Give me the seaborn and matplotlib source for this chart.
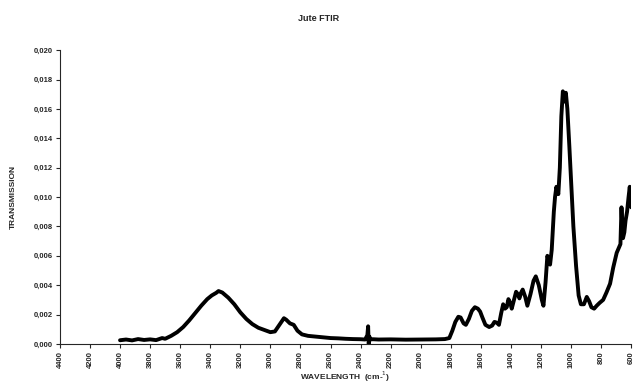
import numpy as np
import pandas as pd
import matplotlib
matplotlib.use("Agg")
import matplotlib.pyplot as plt
import seaborn as sns
from matplotlib.ticker import FuncFormatter

# Spectrum values
wavenumber = [4000, 3960, 3920, 3880, 3840, 3800, 3760, 3720, 3700, 3660,
              3620, 3580, 3540, 3500, 3460, 3420, 3390, 3360, 3345, 3320,
              3280, 3240, 3200, 3160, 3120, 3080, 3040, 3000, 2970, 2940,
              2910, 2895, 2870, 2845, 2820, 2790, 2750, 2700, 2650, 2600,
              2550, 2500, 2450, 2400, 2370, 2355, 2350, 2346, 2342, 2335,
              2320, 2280, 2200, 2100, 2000, 1900, 1840, 1810, 1790, 1770,
              1750, 1735, 1715, 1700, 1680, 1660, 1640, 1620, 1605, 1590,
              1570, 1545, 1525, 1510, 1495, 1480, 1465, 1452, 1440, 1428,
              1417, 1405, 1395, 1380, 1366, 1355, 1344, 1332, 1322, 1305,
              1291, 1270, 1250, 1235, 1215, 1195, 1184, 1170, 1158, 1148,
              1140, 1129, 1115, 1107, 1098, 1085, 1075, 1065, 1055, 1048,
              1042, 1035, 1025, 1012, 1000, 985, 967, 950, 935, 915,
              896, 880, 865, 847, 830, 810, 787, 765, 741, 720,
              697, 680, 672, 665, 660, 655, 646, 638, 628, 618,
              610, 605, 600]
transmission = [0.00025, 0.00030, 0.00024, 0.00033, 0.00027, 0.00031, 0.00026, 0.00040, 0.00035, 0.00055,
                0.00080, 0.00115, 0.00160, 0.00210, 0.00260, 0.00305, 0.00330, 0.00348, 0.00360, 0.00350,
                0.00315, 0.00270, 0.00215, 0.00170, 0.00135, 0.00110, 0.00095, 0.00080, 0.00085, 0.00130,
                0.00175, 0.00165, 0.00140, 0.00130, 0.00090, 0.00065, 0.00055, 0.00050, 0.00045, 0.00040,
                0.00038, 0.00035, 0.00033, 0.00032, 0.00030, 0.00060, 0.00120, -0.00020, 0.00050, 0.00030,
                0.00032, 0.00030, 0.00031, 0.00029, 0.00030, 0.00031, 0.00033, 0.00040, 0.00090, 0.00150,
                0.00185, 0.00180, 0.00140, 0.00130, 0.00170, 0.00225, 0.00250, 0.00240, 0.00220, 0.00180,
                0.00130, 0.00115, 0.00125, 0.00150, 0.00145, 0.00130, 0.00210, 0.00270, 0.00240, 0.00250,
                0.00305, 0.00280, 0.00240, 0.00300, 0.00355, 0.00340, 0.00310, 0.00350, 0.00370, 0.00320,
                0.00260, 0.00340, 0.00430, 0.00460, 0.00400, 0.00300, 0.00260, 0.00420, 0.00600, 0.00570,
                0.00540, 0.00640, 0.00900, 0.01000, 0.01070, 0.01020, 0.01200, 0.01550, 0.01720, 0.01700,
                0.01650, 0.01710, 0.01600, 0.01350, 0.01100, 0.00800, 0.00530, 0.00330, 0.00270, 0.00270,
                0.00320, 0.00290, 0.00250, 0.00240, 0.00260, 0.00280, 0.00300, 0.00350, 0.00410, 0.00520,
                0.00620, 0.00660, 0.00680, 0.00930, 0.00800, 0.00720, 0.00760, 0.00840, 0.00900, 0.01000,
                0.01070, 0.00960, 0.00930]

df = pd.DataFrame({"wavenumber": wavenumber, "transmission": transmission})

sns.set_style("ticks")
plt.rcParams['font.family'] = ['Liberation Sans', 'DejaVu Sans']

fig = plt.figure(figsize=(6.37, 3.86), dpi=100)
ax = fig.add_axes([0.094, 0.109, 0.897, 0.761])

sns.lineplot(data=df, x="wavenumber", y="transmission", sort=False,
             color="black", linewidth=2.8, ax=ax)

ax.set_xlim(4400, 600)
ax.set_ylim(0, 0.020)
ax.set_xticks(np.arange(4400, 599, -200))
ax.set_yticks(np.arange(0, 0.0201, 0.002))
ax.yaxis.set_major_formatter(FuncFormatter(lambda v, p: f"{v:.3f}".replace(".", ",")))
ax.tick_params(axis="x", labelrotation=90, labelsize=5.5, length=3, width=0.8, pad=2)
ax.tick_params(axis="y", labelsize=5.5, length=3, width=0.8, pad=2)
for lab in ax.get_xticklabels() + ax.get_yticklabels():
    lab.set_fontweight("bold")

sns.despine(ax=ax)
ax.spines["left"].set_linewidth(0.8)
ax.spines["bottom"].set_linewidth(0.8)

ax.set_xlabel("WAVELENGTH  (cm-$^{1}$)", fontsize=6, fontweight="bold", labelpad=1)
ax.set_ylabel("TRANSMISSION", fontsize=6, fontweight="bold", labelpad=12)
fig.suptitle("Jute FTIR", fontsize=6.5, fontweight="bold", y=0.965)

fig.savefig("out.png", dpi=100)
